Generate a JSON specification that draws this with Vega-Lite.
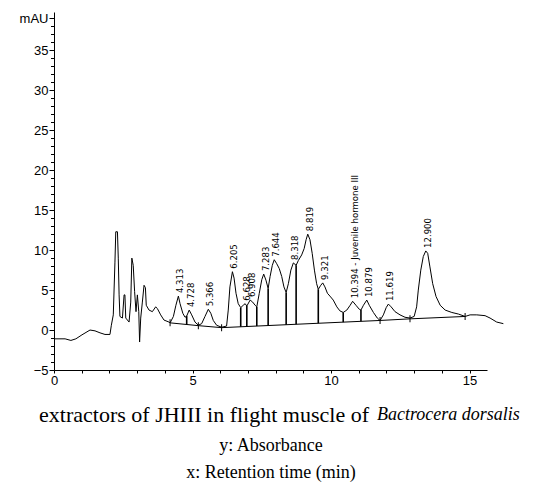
{
  "$schema": "https://vega.github.io/schema/vega-lite/v6.json",
  "autosize": {"type": "none"},
  "padding": {"left": 54, "top": 12, "right": 54, "bottom": 122},
  "width": 433,
  "height": 358,
  "background": "white",
  "config": {
    "view": {"stroke": null},
    "axis": {"grid": false, "domainColor": "black", "tickColor": "black", "labelColor": "black", "labelFont": "Liberation Sans", "labelFontSize": 13}
  },
  "datasets": {
    "trace": [
      {"t": 0.02, "mAU": -1.1}, {"t": 0.40, "mAU": -1.1}, {"t": 0.61, "mAU": -1.3}, {"t": 0.79, "mAU": -1.1},
      {"t": 1.01, "mAU": -0.6}, {"t": 1.30, "mAU": 0.0}, {"t": 1.48, "mAU": -0.1}, {"t": 1.66, "mAU": -0.35},
      {"t": 1.84, "mAU": -0.55}, {"t": 2.02, "mAU": -0.55}, {"t": 2.07, "mAU": 0.6}, {"t": 2.14, "mAU": 1.9},
      {"t": 2.20, "mAU": 8.5}, {"t": 2.23, "mAU": 12.3}, {"t": 2.29, "mAU": 12.3}, {"t": 2.32, "mAU": 9.0},
      {"t": 2.35, "mAU": 4.4}, {"t": 2.38, "mAU": 1.7}, {"t": 2.47, "mAU": 1.5}, {"t": 2.53, "mAU": 4.4},
      {"t": 2.56, "mAU": 4.4}, {"t": 2.59, "mAU": 1.5}, {"t": 2.71, "mAU": 1.0}, {"t": 2.77, "mAU": 3.5},
      {"t": 2.81, "mAU": 9.0}, {"t": 2.86, "mAU": 8.1}, {"t": 2.91, "mAU": 4.8}, {"t": 2.96, "mAU": 2.3},
      {"t": 3.01, "mAU": 4.4}, {"t": 3.06, "mAU": 2.3}, {"t": 3.09, "mAU": -1.5}, {"t": 3.13, "mAU": 1.5},
      {"t": 3.19, "mAU": 3.5}, {"t": 3.25, "mAU": 5.6}, {"t": 3.30, "mAU": 5.3}, {"t": 3.33, "mAU": 3.1},
      {"t": 3.43, "mAU": 2.5}, {"t": 3.55, "mAU": 2.3}, {"t": 3.67, "mAU": 2.9}, {"t": 3.73, "mAU": 2.7},
      {"t": 3.85, "mAU": 1.9}, {"t": 3.97, "mAU": 1.25}, {"t": 4.15, "mAU": 1.0}, {"t": 4.19, "mAU": 0.9},
      {"t": 4.31, "mAU": 1.7}, {"t": 4.40, "mAU": 3.1}, {"t": 4.49, "mAU": 4.25}, {"t": 4.55, "mAU": 3.3},
      {"t": 4.65, "mAU": 2.1}, {"t": 4.73, "mAU": 1.6}, {"t": 4.79, "mAU": 1.75}, {"t": 4.88, "mAU": 2.5},
      {"t": 4.97, "mAU": 1.9}, {"t": 5.09, "mAU": 1.0}, {"t": 5.21, "mAU": 0.6}, {"t": 5.33, "mAU": 0.8},
      {"t": 5.45, "mAU": 1.7}, {"t": 5.57, "mAU": 2.6}, {"t": 5.66, "mAU": 2.1}, {"t": 5.75, "mAU": 1.2},
      {"t": 5.87, "mAU": 0.6}, {"t": 6.05, "mAU": 0.35}, {"t": 6.23, "mAU": 0.5}, {"t": 6.29, "mAU": 2.5},
      {"t": 6.35, "mAU": 5.4}, {"t": 6.44, "mAU": 7.3}, {"t": 6.50, "mAU": 6.5}, {"t": 6.57, "mAU": 4.6},
      {"t": 6.65, "mAU": 3.3}, {"t": 6.74, "mAU": 2.8}, {"t": 6.83, "mAU": 3.1}, {"t": 6.90, "mAU": 3.3},
      {"t": 6.96, "mAU": 3.0}, {"t": 7.08, "mAU": 3.75}, {"t": 7.17, "mAU": 3.5}, {"t": 7.26, "mAU": 3.1},
      {"t": 7.32, "mAU": 2.9}, {"t": 7.41, "mAU": 4.6}, {"t": 7.50, "mAU": 6.3}, {"t": 7.57, "mAU": 7.0},
      {"t": 7.65, "mAU": 6.25}, {"t": 7.73, "mAU": 5.2}, {"t": 7.80, "mAU": 6.7}, {"t": 7.88, "mAU": 8.1},
      {"t": 7.95, "mAU": 8.8}, {"t": 8.04, "mAU": 8.3}, {"t": 8.13, "mAU": 7.7}, {"t": 8.22, "mAU": 6.7},
      {"t": 8.30, "mAU": 5.4}, {"t": 8.38, "mAU": 4.7}, {"t": 8.46, "mAU": 5.8}, {"t": 8.55, "mAU": 7.5},
      {"t": 8.64, "mAU": 8.4}, {"t": 8.74, "mAU": 8.1}, {"t": 8.82, "mAU": 8.7}, {"t": 8.94, "mAU": 9.4},
      {"t": 9.03, "mAU": 10.2}, {"t": 9.10, "mAU": 11.3}, {"t": 9.16, "mAU": 12.0}, {"t": 9.24, "mAU": 11.3},
      {"t": 9.32, "mAU": 9.6}, {"t": 9.40, "mAU": 7.5}, {"t": 9.48, "mAU": 5.8}, {"t": 9.54, "mAU": 5.1},
      {"t": 9.63, "mAU": 5.6}, {"t": 9.70, "mAU": 5.9}, {"t": 9.78, "mAU": 5.4}, {"t": 9.87, "mAU": 4.6},
      {"t": 9.96, "mAU": 4.25}, {"t": 10.08, "mAU": 3.75}, {"t": 10.21, "mAU": 2.9}, {"t": 10.32, "mAU": 2.4},
      {"t": 10.44, "mAU": 2.2}, {"t": 10.57, "mAU": 2.5}, {"t": 10.69, "mAU": 3.1}, {"t": 10.78, "mAU": 3.6},
      {"t": 10.90, "mAU": 3.1}, {"t": 11.02, "mAU": 2.6}, {"t": 11.08, "mAU": 2.5}, {"t": 11.17, "mAU": 3.1},
      {"t": 11.29, "mAU": 3.75}, {"t": 11.38, "mAU": 3.1}, {"t": 11.53, "mAU": 2.2}, {"t": 11.67, "mAU": 1.5},
      {"t": 11.77, "mAU": 1.2}, {"t": 11.89, "mAU": 1.9}, {"t": 11.99, "mAU": 2.8}, {"t": 12.07, "mAU": 3.25},
      {"t": 12.17, "mAU": 2.9}, {"t": 12.31, "mAU": 2.3}, {"t": 12.49, "mAU": 1.9}, {"t": 12.67, "mAU": 1.6},
      {"t": 12.85, "mAU": 1.5}, {"t": 13.00, "mAU": 1.7}, {"t": 13.09, "mAU": 2.9}, {"t": 13.15, "mAU": 5.0},
      {"t": 13.24, "mAU": 7.5}, {"t": 13.33, "mAU": 9.2}, {"t": 13.42, "mAU": 9.9}, {"t": 13.49, "mAU": 9.6},
      {"t": 13.57, "mAU": 7.9}, {"t": 13.67, "mAU": 5.8}, {"t": 13.79, "mAU": 4.2}, {"t": 13.94, "mAU": 3.1},
      {"t": 14.12, "mAU": 2.5}, {"t": 14.36, "mAU": 2.2}, {"t": 14.60, "mAU": 2.0}, {"t": 14.84, "mAU": 1.7},
      {"t": 15.02, "mAU": 1.9}, {"t": 15.26, "mAU": 1.9}, {"t": 15.56, "mAU": 1.8}, {"t": 15.74, "mAU": 1.5},
      {"t": 15.98, "mAU": 1.0}, {"t": 16.22, "mAU": 0.8}
    ],
    "baseline": [
      {"t": 4.19, "mAU": 0.9}, {"t": 5.21, "mAU": 0.55}, {"t": 6.05, "mAU": 0.3},
      {"t": 11.77, "mAU": 1.2}, {"t": 12.85, "mAU": 1.4}, {"t": 14.84, "mAU": 1.7}
    ],
    "drops": [
      {"t": 4.79, "mAU": 1.75, "base": 0.69}, {"t": 6.74, "mAU": 2.8, "base": 0.41},
      {"t": 6.96, "mAU": 3.0, "base": 0.44}, {"t": 7.32, "mAU": 2.9, "base": 0.50},
      {"t": 7.73, "mAU": 5.2, "base": 0.56}, {"t": 8.38, "mAU": 4.7, "base": 0.66},
      {"t": 8.74, "mAU": 8.1, "base": 0.72}, {"t": 9.54, "mAU": 5.1, "base": 0.85},
      {"t": 10.44, "mAU": 2.2, "base": 0.99}, {"t": 11.08, "mAU": 2.5, "base": 1.09}
    ],
    "peaks": [
      {"peak": "4.313", "t": 4.49, "mAU": 4.25},
      {"peak": "4.728", "t": 4.88, "mAU": 2.5},
      {"peak": "5.366", "t": 5.57, "mAU": 2.6},
      {"peak": "6.205", "t": 6.44, "mAU": 7.3},
      {"peak": "6.628", "t": 6.90, "mAU": 3.3},
      {"peak": "6.908", "t": 7.08, "mAU": 3.75},
      {"peak": "7.283", "t": 7.57, "mAU": 7.0},
      {"peak": "7.644", "t": 7.95, "mAU": 8.8},
      {"peak": "8.318", "t": 8.64, "mAU": 8.4},
      {"peak": "8.819", "t": 9.16, "mAU": 12.0},
      {"peak": "9.321", "t": 9.70, "mAU": 5.9},
      {"peak": "10.394 - Juvenile hormone III", "t": 10.78, "mAU": 3.6},
      {"peak": "10.879", "t": 11.29, "mAU": 3.75},
      {"peak": "11.619", "t": 12.07, "mAU": 3.25},
      {"peak": "12.900", "t": 13.42, "mAU": 9.9}
    ]
  },
  "layer": [
    {
      "data": {"name": "trace"},
      "mark": {"type": "line", "color": "black", "strokeWidth": 1},
      "encoding": {
        "x": {
          "field": "t", "type": "quantitative",
          "scale": {"domain": [0, 15.63], "nice": false, "zero": false},
          "axis": {
            "values": [0, 1, 2, 3, 4, 5, 6, 7, 8, 9, 10, 11, 12, 13, 14, 15],
            "tickCount": 100,
            "format": "d",
            "labelExpr": "datum.value % 5 === 0 ? datum.label : ''",
            "labelOverlap": false, "labelFlush": false,
            "tickSize": 3,
            "labelPadding": 1,
            "title": ["y: Absorbance", "x: Retention time (min)"],
            "titleFont": "Liberation Serif", "titleFontSize": 18, "titleFontWeight": "normal",
            "titleColor": "black", "titleLineHeight": 27, "titlePadding": 49
          }
        },
        "y": {
          "field": "mAU", "type": "quantitative",
          "scale": {"domain": [-5, 39.8], "nice": false, "zero": false},
          "axis": {
            "values": [-5, -4, -3, -2, -1, 0, 1, 2, 3, 4, 5, 6, 7, 8, 9, 10, 11, 12, 13, 14, 15, 16, 17, 18, 19, 20, 21, 22, 23, 24, 25, 26, 27, 28, 29, 30, 31, 32, 33, 34, 35, 36, 37, 38, 39],
            "tickCount": 100,
            "format": "d",
            "labelExpr": "datum.value === 39 ? 'mAU' : (datum.value % 5 === 0 ? datum.label : '')",
            "labelOverlap": false, "labelFlush": false,
            "tickSize": {"condition": {"test": "datum.value % 5 === 0 || datum.value === 39", "value": 5}, "value": 3.5},
            "labelPadding": 1,
            "title": null
          }
        }
      }
    },
    {
      "data": {"name": "baseline"},
      "mark": {"type": "line", "color": "black", "strokeWidth": 1},
      "encoding": {
        "x": {"field": "t", "type": "quantitative"},
        "y": {"field": "mAU", "type": "quantitative"}
      }
    },
    {
      "data": {"name": "baseline"},
      "mark": {"type": "tick", "orient": "vertical", "color": "black", "size": 7, "thickness": 1, "opacity": 1},
      "encoding": {
        "x": {"field": "t", "type": "quantitative"},
        "y": {"field": "mAU", "type": "quantitative"}
      }
    },
    {
      "data": {"name": "drops"},
      "mark": {"type": "rule", "color": "black", "strokeWidth": 1.6},
      "encoding": {
        "x": {"field": "t", "type": "quantitative"},
        "y": {"field": "mAU", "type": "quantitative"},
        "y2": {"field": "base"}
      }
    },
    {
      "data": {"name": "peaks"},
      "mark": {"type": "text", "angle": 270, "align": "left", "baseline": "middle", "font": "DejaVu Sans Condensed, Liberation Sans Narrow, sans-serif", "fontSize": 9.5, "color": "black", "xOffset": 2, "yOffset": -3},
      "encoding": {
        "x": {"field": "t", "type": "quantitative"},
        "y": {"field": "mAU", "type": "quantitative"},
        "text": {"field": "peak"}
      }
    },
    {
      "data": {"values": [{"caption": "extractors of JHIII in flight muscle of"}]},
      "mark": {"type": "text", "align": "right", "baseline": "middle", "font": "Liberation Serif", "fontSize": 22, "color": "black"},
      "encoding": {
        "x": {"datum": 11.37, "type": "quantitative"},
        "y": {"datum": -10.6, "type": "quantitative"},
        "text": {"field": "caption"}
      }
    },
    {
      "data": {"values": [{"caption": "Bactrocera dorsalis"}]},
      "mark": {"type": "text", "align": "left", "baseline": "middle", "font": "Liberation Serif", "fontSize": 18, "fontStyle": "italic", "color": "black", "xOffset": 8},
      "encoding": {
        "x": {"datum": 11.37, "type": "quantitative"},
        "y": {"datum": -10.6, "type": "quantitative"},
        "text": {"field": "caption"}
      }
    }
  ]
}
